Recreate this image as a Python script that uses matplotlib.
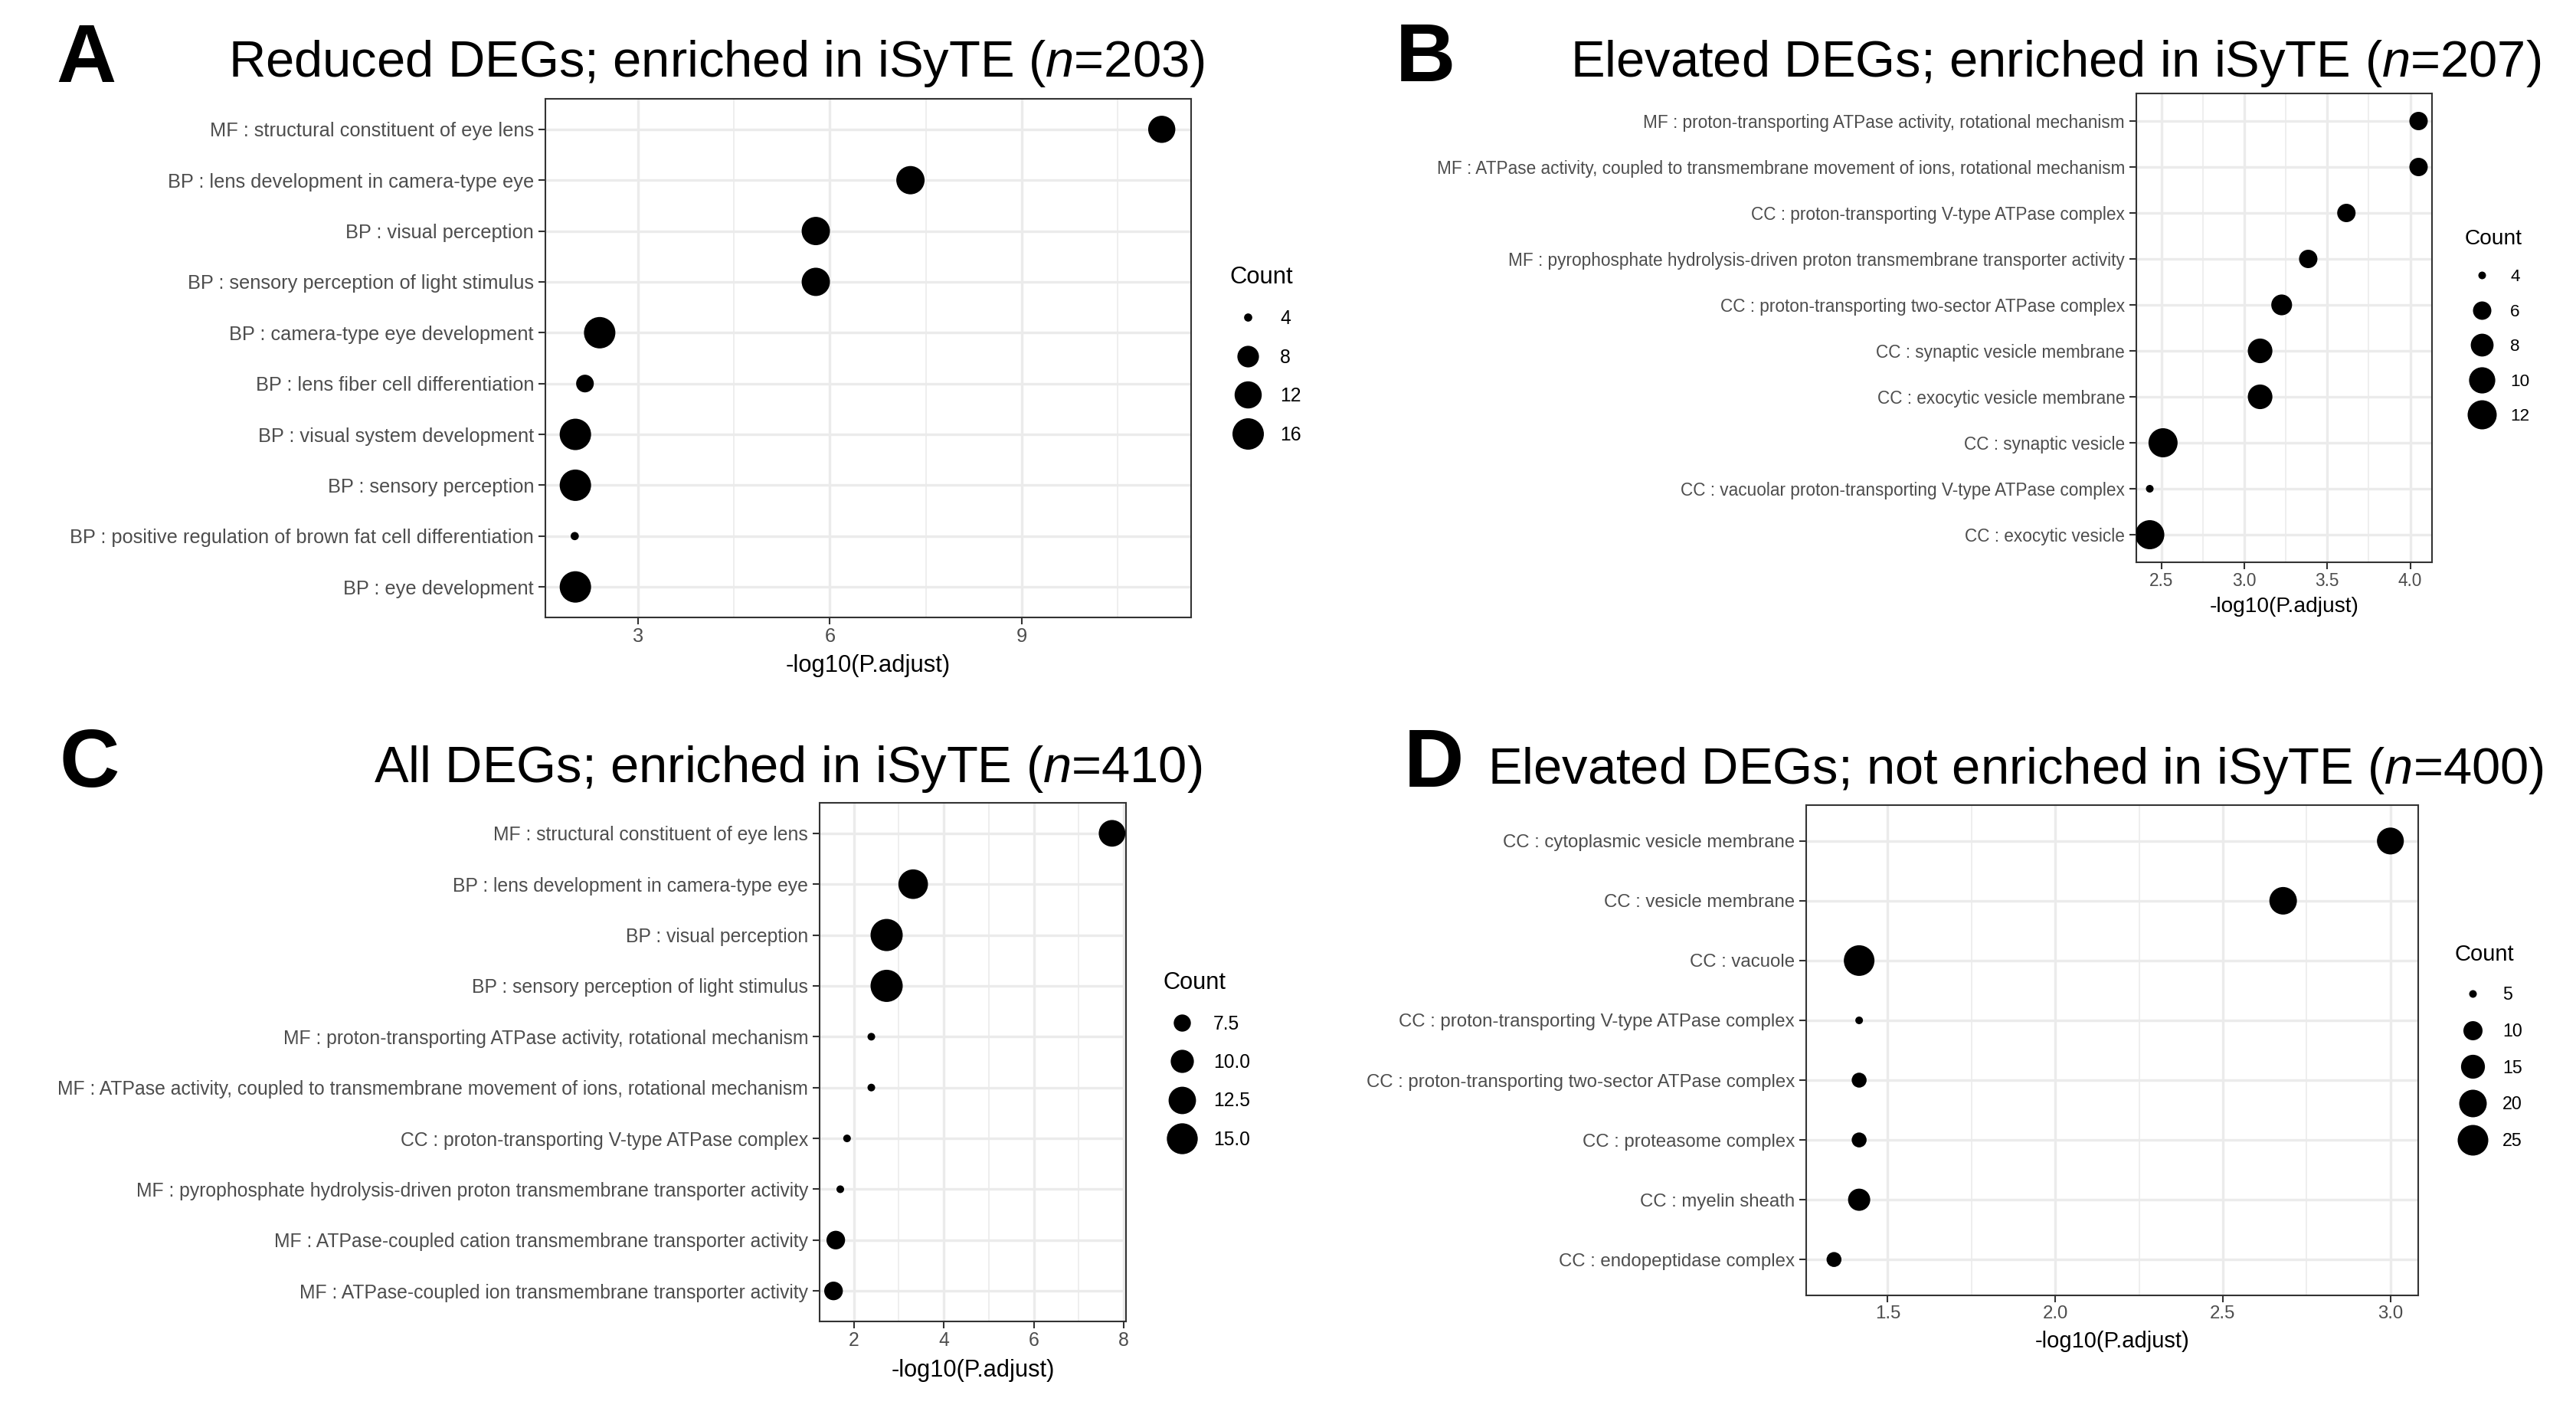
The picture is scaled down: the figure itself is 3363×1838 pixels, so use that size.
import numpy as np
import matplotlib
matplotlib.use("Agg")
import matplotlib.pyplot as plt
from matplotlib.ticker import MultipleLocator, FormatStrFormatter

W, H, DPI = 3363, 1838, 300
plt.rcParams['font.family'] = ['Liberation Sans', 'DejaVu Sans']
plt.rcParams['mathtext.fontset'] = 'custom'
plt.rcParams['mathtext.rm'] = 'Liberation Sans'
plt.rcParams['mathtext.it'] = 'Liberation Sans:italic'

# ---------------- data ----------------
a_title = r"Reduced DEGs; enriched in iSyTE ($\mathit{n}$=203)"
a_terms = ["MF : structural constituent of eye lens",
           "BP : lens development in camera-type eye",
           "BP : visual perception",
           "BP : sensory perception of light stimulus",
           "BP : camera-type eye development",
           "BP : lens fiber cell differentiation",
           "BP : visual system development",
           "BP : sensory perception",
           "BP : positive regulation of brown fat cell differentiation",
           "BP : eye development"]
a_logp = [11.19, 7.26, 5.78, 5.78, 2.40, 2.17, 2.02, 2.02, 2.01, 2.02]
a_count = [12, 13, 13, 13, 16, 6, 16, 16, 4, 16]
a_breaks = [4, 8, 12, 16]
a_break_labels = ["4", "8", "12", "16"]

b_title = r"Elevated DEGs; enriched in iSyTE ($\mathit{n}$=207)"
b_terms = ["MF : proton-transporting ATPase activity, rotational mechanism",
           "MF : ATPase activity, coupled to transmembrane movement of ions, rotational mechanism",
           "CC : proton-transporting V-type ATPase complex",
           "MF : pyrophosphate hydrolysis-driven proton transmembrane transporter activity",
           "CC : proton-transporting two-sector ATPase complex",
           "CC : synaptic vesicle membrane",
           "CC : exocytic vesicle membrane",
           "CC : synaptic vesicle",
           "CC : vacuolar proton-transporting V-type ATPase complex",
           "CC : exocytic vesicle"]
b_logp = [4.05, 4.05, 3.615, 3.385, 3.225, 3.095, 3.095, 2.51, 2.43, 2.43]
b_count = [6, 6, 6, 6, 7, 9, 9, 12, 4, 12]
b_breaks = [4, 6, 8, 10, 12]
b_break_labels = ["4", "6", "8", "10", "12"]

c_title = r"All DEGs; enriched in iSyTE ($\mathit{n}$=410)"
c_terms = ["MF : structural constituent of eye lens",
           "BP : lens development in camera-type eye",
           "BP : visual perception",
           "BP : sensory perception of light stimulus",
           "MF : proton-transporting ATPase activity, rotational mechanism",
           "MF : ATPase activity, coupled to transmembrane movement of ions, rotational mechanism",
           "CC : proton-transporting V-type ATPase complex",
           "MF : pyrophosphate hydrolysis-driven proton transmembrane transporter activity",
           "MF : ATPase-coupled cation transmembrane transporter activity",
           "MF : ATPase-coupled ion transmembrane transporter activity"]
c_logp = [7.74, 3.32, 2.73, 2.73, 2.39, 2.39, 1.85, 1.70, 1.60, 1.55]
c_count = [12, 14, 16, 16, 6, 6, 6, 6, 8, 8]
c_breaks = [7.5, 10.0, 12.5, 15.0]
c_break_labels = ["7.5", "10.0", "12.5", "15.0"]

d_title = r"Elevated DEGs; not enriched in iSyTE ($\mathit{n}$=400)"
d_terms = ["CC : cytoplasmic vesicle membrane",
           "CC : vesicle membrane",
           "CC : vacuole",
           "CC : proton-transporting V-type ATPase complex",
           "CC : proton-transporting two-sector ATPase complex",
           "CC : proteasome complex",
           "CC : myelin sheath",
           "CC : endopeptidase complex"]
d_logp = [3.00, 2.68, 1.415, 1.415, 1.415, 1.415, 1.415, 1.34]
d_count = [19, 20, 25, 5, 7, 7, 13, 7]
d_breaks = [5, 10, 15, 20, 25]
d_break_labels = ["5", "10", "15", "20", "25"]

x_label = "-log10(P.adjust)"
legend_title = "Count"

# ---------------- layout (pixel positions, styles) ----------------
LAYOUT = {
    'A': dict(ax=(712, 1555, 129, 806), major=3, fmt='%d', dot=(10.7, 41),
              axtxt=6.1, ttl=7.45, leg=(1605, 370, 414, 50.7, 1629, 1671),
              title=(298, 100), letter=(73, 107), xlab=63),
    'B': dict(ax=(2789, 3175, 122, 734), major=0.5, fmt='%.1f', dot=(10, 38),
              axtxt=5.45, ttl=6.75, leg=(3218, 319, 359, 45.5, 3240, 3277),
              title=(2050, 100), letter=(1822, 106), xlab=58),
    'C': dict(ax=(1070, 1470, 1048, 1725), major=2, fmt='%d', dot=(10, 42),
              axtxt=5.95, ttl=7.4, leg=(1519, 1291, 1335, 50.3, 1543, 1584),
              title=(488, 1021), letter=(78, 1027), xlab=64),
    'D': dict(ax=(2358, 3157, 1051, 1691), major=0.5, fmt='%.1f', dot=(10, 40),
              axtxt=5.75, ttl=7.0, leg=(3205, 1254, 1297, 47.7, 3228, 3267),
              title=(1942, 1023), letter=(1833, 1027), xlab=60),
}


def rect(l, r, t, b):
    return [l / W, 1 - b / H, (r - l) / W, (b - t) / H]


def dot_diam(c, lo, hi, dmin, dmax):
    c = np.asarray(c, dtype=float)
    return dmin + (dmax - dmin) * np.sqrt(np.clip((c - lo) / (hi - lo), 0, 1))


def area(diam_px):
    return (np.asarray(diam_px) * 72.0 / DPI) ** 2


fig = plt.figure(figsize=(W / DPI, H / DPI), dpi=DPI)
fig.patch.set_facecolor('white')

panels = [('A', a_terms, a_logp, a_count, a_breaks, a_break_labels, a_title),
          ('B', b_terms, b_logp, b_count, b_breaks, b_break_labels, b_title),
          ('C', c_terms, c_logp, c_count, c_breaks, c_break_labels, c_title),
          ('D', d_terms, d_logp, d_count, d_breaks, d_break_labels, d_title)]

axes = {}
for key, terms, logp, counts, breaks, blabels, title in panels:
    cfg = LAYOUT[key]
    ax = fig.add_axes(rect(*cfg['ax']))
    axes[key] = ax
    n = len(terms)
    y = np.arange(n)
    lo, hi = min(counts), max(counts)
    d = dot_diam(counts, lo, hi, *cfg['dot'])
    ax.scatter(logp, y, s=area(d), c='black', linewidths=0, zorder=3)
    xmin, xmax = min(logp), max(logp)
    pad = 0.05 * (xmax - xmin)
    ax.set_xlim(xmin - pad, xmax + pad)
    ax.set_ylim(n - 1 + 0.6, -0.6)
    ax.set_yticks(y)
    ax.set_yticklabels(terms)
    ax.xaxis.set_major_locator(MultipleLocator(cfg['major']))
    ax.xaxis.set_minor_locator(MultipleLocator(cfg['major'] / 2))
    ax.xaxis.set_major_formatter(FormatStrFormatter(cfg['fmt']))
    ax.set_axisbelow(True)
    ax.grid(which='major', color='#EBEBEB', linewidth=0.8)
    ax.grid(which='minor', axis='x', color='#EBEBEB', linewidth=0.4)
    ax.tick_params(which='minor', length=0)
    ax.tick_params(which='major', length=2.2, width=0.5, color='#333333',
                   labelcolor='#4D4D4D', labelsize=cfg['axtxt'])
    ax.tick_params(axis='x', pad=1.0)
    ax.tick_params(axis='y', pad=1.4)
    for sp in ax.spines.values():
        sp.set_color('#333333')
        sp.set_linewidth(0.5)

# overlay in pixel coordinates for titles, letters, x labels and legends
ov = fig.add_axes([0, 0, 1, 1])
ov.set_xlim(0, W)
ov.set_ylim(H, 0)
ov.axis('off')

for key, terms, logp, counts, breaks, blabels, title in panels:
    cfg = LAYOUT[key]
    l, r, t, b = cfg['ax']
    ov.text(cfg['letter'][0], cfg['letter'][1], key, fontsize=26,
            fontweight='bold', va='baseline', ha='left', color='black')
    ov.text(cfg['title'][0], cfg['title'][1], title, fontsize=16.05,
            va='baseline', ha='left', color='black')
    ov.text((l + r) / 2, b + cfg['xlab'], x_label, fontsize=cfg['ttl'],
            ha='center', va='center', color='black')
    tx, tyb, y0, dy, dx, lx = cfg['leg']
    ov.text(tx, tyb, legend_title, fontsize=cfg['ttl'], va='baseline',
            ha='left', color='black')
    lo, hi = min(counts), max(counts)
    lab_size = 0.8 * cfg['ttl']
    cap = 0.716 * lab_size * DPI / 72.0
    for i, (bv, bl) in enumerate(zip(breaks, blabels)):
        yy = y0 + i * dy
        ov.scatter([dx], [yy], s=area(dot_diam(bv, lo, hi, *cfg['dot'])),
                   c='black', linewidths=0)
        ov.text(lx, yy + cap / 2, bl, fontsize=lab_size, va='baseline',
                ha='left', color='black')

fig.savefig('out.png', dpi=DPI, facecolor='white')
